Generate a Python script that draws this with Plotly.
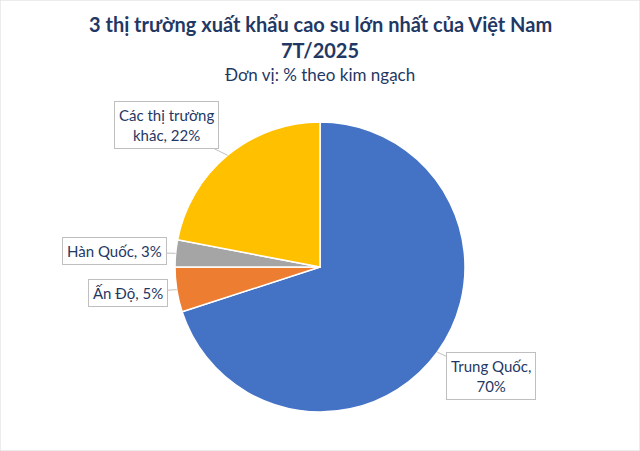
import math
import plotly.graph_objects as go

# data
markets = ["Trung Quốc", "Ấn Độ", "Hàn Quốc", "Các thị trường khác"]
shares = [70, 5, 3, 22]
label_text = ["Trung Quốc,<br>70%", "Ấn Độ, 5%", "Hàn Quốc, 3%", "Các thị trường<br>khác, 22%"]
colors = ["#4472C4", "#ED7D31", "#A5A5A5", "#FFC000"]

W, H = 640, 451
CX, CY, R = 320, 267, 145  # pie centre / radius in pixels
# pixel offsets of each callout box from the slice edge
label_offsets = [(54, 24), (-49, 3), (-61, -2), (-61, -30)]

text_color = "#1F3864"
font = "Lato"

fig = go.Figure(go.Pie(
    labels=markets,
    values=shares,
    sort=False,
    direction="clockwise",
    rotation=0,
    marker=dict(colors=colors, line=dict(color="white", width=1.5)),
    textinfo="none",
    hoverinfo="label+percent",
    showlegend=False,
    domain=dict(x=[(CX - R) / W, (CX + R) / W], y=[(H - CY - R) / H, (H - CY + R) / H]),
))

# callouts placed at the mid-angle of each slice
total = sum(shares)
annotations = []
start = 0
for i, v in enumerate(shares):
    mid = (start + v / 2) / total * 2 * math.pi
    start += v
    px = CX + R * math.sin(mid)
    py = CY - R * math.cos(mid)
    ax, ay = label_offsets[i]
    annotations.append(dict(
        x=px / W, y=1 - py / H, xref="paper", yref="paper",
        text=label_text[i], showarrow=True, ax=ax, ay=ay,
        arrowhead=0, arrowwidth=1, arrowcolor="#BFBFBF",
        bordercolor="#BFBFBF", borderwidth=1, borderpad=4, bgcolor="white",
        font=dict(family=font, size=15, color=text_color),
    ))

# title lines
for txt, ypx, size, bold in [
    ("3 thị trường xuất khẩu cao su lớn nhất của Việt Nam", 24, 20, True),
    ("7T/2025", 50, 20, True),
    ("Đơn vị: % theo kim ngạch", 75, 17, False),
]:
    annotations.append(dict(
        x=0.5, y=1 - ypx / H, xref="paper", yref="paper", showarrow=False,
        yanchor="middle", text=f"<b>{txt}</b>" if bold else txt,
        font=dict(family=font, size=size, color=text_color),
    ))

fig.update_layout(
    width=W, height=H,
    margin=dict(l=0, r=0, t=0, b=0),
    paper_bgcolor="white",
    annotations=annotations,
    shapes=[dict(type="rect", xref="paper", yref="paper", x0=0, y0=0, x1=1, y1=1,
                 line=dict(color="#D9D9D9", width=1))],
)

fig.write_html("out.html", config={"displayModeBar": False},
               post_script="document.body.style.margin='0';")
